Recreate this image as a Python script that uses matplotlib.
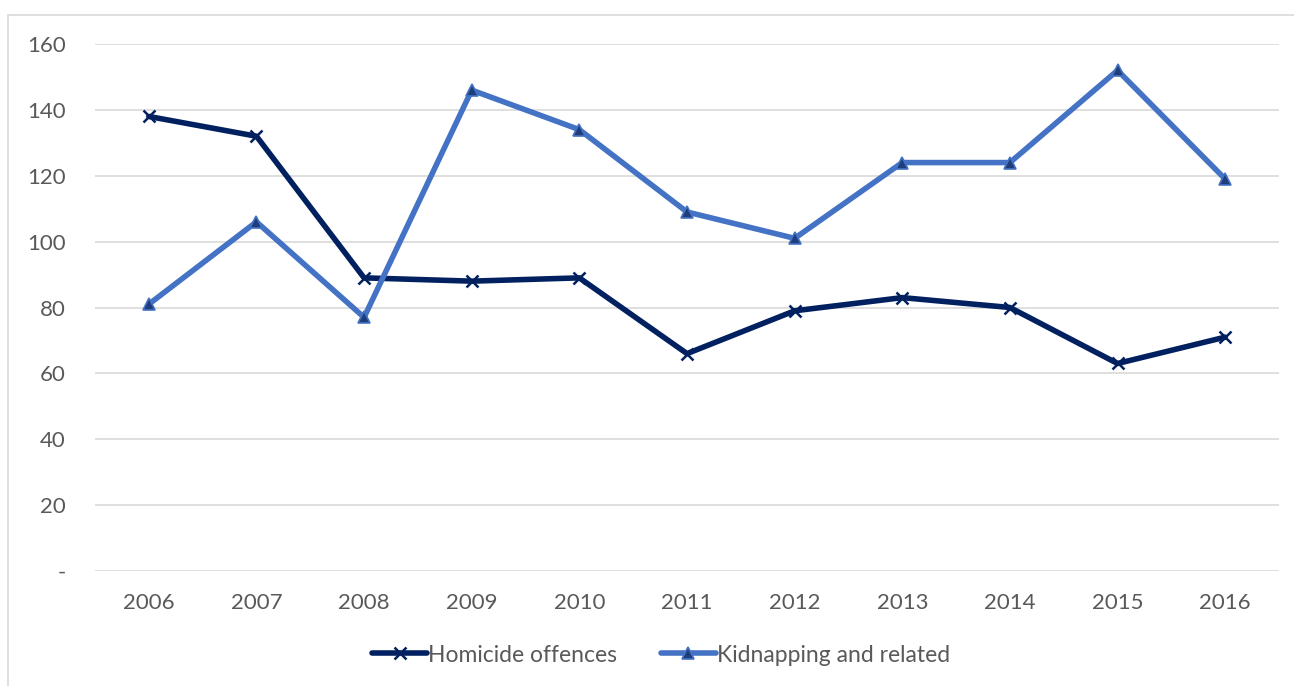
import matplotlib
matplotlib.use("Agg")
import matplotlib.pyplot as plt
from matplotlib.patches import Rectangle

years = ["2006", "2007", "2008", "2009", "2010", "2011", "2012", "2013", "2014", "2015", "2016"]
homicide = [138, 132, 89, 88, 89, 66, 79, 83, 80, 63, 71]
kidnapping = [81, 106, 77, 146, 134, 109, 101, 124, 124, 152, 119]
y_ticks = [0, 20, 40, 60, 80, 100, 120, 140, 160]
y_tick_labels = ["-", "20", "40", "60", "80", "100", "120", "140", "160"]

W, H = 1294, 686
fig = plt.figure(figsize=(W / 100, H / 100), dpi=100)
plt.rcParams['font.family'] = ['Lato', 'DejaVu Sans']
text_col = "#595959"

# outer chart border (left and top edges visible)
fig.patches.append(Rectangle((8 / W, -0.1), 1.2, 1 - 15 / H + 0.1,
                             transform=fig.transFigure, fill=False,
                             edgecolor="#d9d9d9", linewidth=1.2))

left, right = 95 / W, 1279 / W
bottom, top = 1 - 571 / H, 1 - 44 / H
ax = fig.add_axes([left, bottom, right - left, top - bottom])

x = list(range(len(years)))
ax.plot(x, homicide, color="#002060", linewidth=4, marker="x", markersize=9,
        markeredgewidth=1.8, markeredgecolor="#002060", label="Homicide offences",
        solid_capstyle="round", zorder=3)
ax.plot(x, kidnapping, color="#4472C4", linewidth=4, marker="^", markersize=9,
        markerfacecolor="#1F3D7A", markeredgecolor="#4472C4", markeredgewidth=1.2,
        label="Kidnapping and related", solid_capstyle="round", zorder=3)

ax.set_xlim(-0.5, len(years) - 0.5)
ax.set_ylim(0, 160)
ax.set_yticks(y_ticks)
ax.set_yticklabels(y_tick_labels)
ax.set_xticks(x)
ax.set_xticklabels(years)
ax.grid(axis="y", color="#d9d9d9", linewidth=1.2)
ax.set_axisbelow(True)
for s in ax.spines.values():
    s.set_visible(False)
ax.tick_params(length=0, labelsize=16, colors=text_col)
ax.tick_params(axis="y", pad=21)
ax.tick_params(axis="x", pad=16)
for lbl in ax.get_yticklabels():
    lbl.set_horizontalalignment("right")

leg = fig.legend(loc="center", bbox_to_anchor=(661 / W, 1 - 655 / H), ncol=2,
                 frameon=False, fontsize=16.5, handlelength=2.4, handletextpad=0.05,
                 columnspacing=1.9, labelcolor=text_col)

fig.savefig("out.png", dpi=100)
